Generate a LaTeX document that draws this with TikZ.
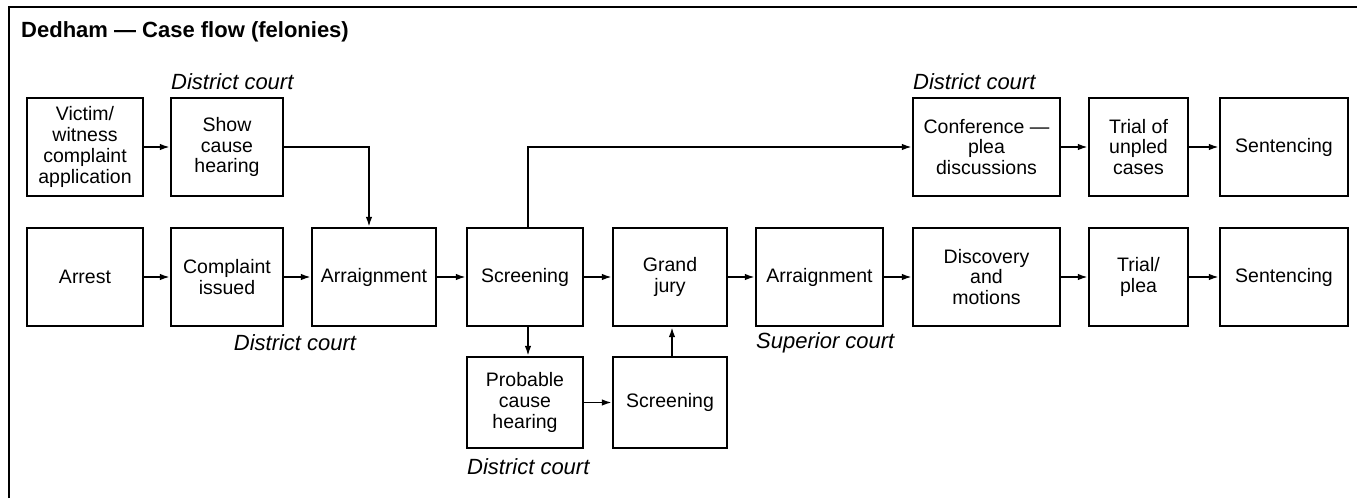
\documentclass[tikz,border=0pt]{standalone}
\usepackage{fontspec}
\setmainfont{Liberation Sans}
\usetikzlibrary{arrows.meta,calc}
\tikzset{
  box/.style={draw, line width=2.2pt, rectangle, inner sep=0pt, align=center,
    font=\fontsize{19.5}{20.8}\selectfont, minimum height=98pt},
  arr/.style={line width=1.8pt, -{Latex[length=10pt,width=6.5pt]}},
  court/.style={font=\itshape\fontsize{22}{26}\selectfont, inner sep=0pt},
  frame/.style={line width=2.2pt}
}
\begin{document}
\begin{tikzpicture}[x=1pt,y=-1pt]
\useasboundingbox (0,0) rectangle (1357,498);
% frame
\coordinate (f0) at (9,498);
\coordinate (f1) at (9,7);
\coordinate (f2) at (1357,7);
\draw[frame] (f0) -- (f1) -- (f2);
\node[anchor=west, inner sep=0pt, font=\bfseries\fontsize{22}{26}\selectfont] (title) at (21,32) {Dedham — Case flow (felonies)};
% top row
\node[box, minimum width=116pt] (vic) at (85,147) {Victim/\\witness\\complaint\\application};
\node[box, minimum width=112pt] (show) at (227,147) {Show\\cause\\hearing};
\node[box, minimum width=147pt] (conf) at (986.5,147) {Conference —\\plea\\discussions};
\node[box, minimum width=99pt] (unpled) at (1138.5,147) {Trial of\\unpled\\cases};
\node[box, minimum width=128pt] (sent1) at (1284,147) {Sentencing};
% middle row
\node[box, minimum width=116pt] (arrest) at (85,277) {Arrest};
\node[box, minimum width=112pt] (compl) at (227,277) {Complaint\\issued};
\node[box, minimum width=124pt] (arr1) at (374,277) {Arraignment};
\node[box, minimum width=116pt] (scr1) at (525,277) {Screening};
\node[box, minimum width=114pt] (gj) at (670,277) {Grand\\jury};
\node[box, minimum width=127pt] (arr2) at (819.5,277) {Arraignment};
\node[box, minimum width=147pt] (disc) at (986.5,277) {Discovery\\and\\motions};
\node[box, minimum width=99pt] (trial) at (1138.5,277) {Trial/\\plea};
\node[box, minimum width=128pt] (sent2) at (1284,277) {Sentencing};
% bottom row
\node[box, minimum width=116pt, minimum height=91pt] (prob) at (525,402.5) {Probable\\cause\\hearing};
\node[box, minimum width=114pt, minimum height=91pt] (scr2) at (670,402.5) {Screening};
% court labels
\node[court, anchor=west] (c1) at (171,82) {District court};
\node[court] (c2) at (295,343) {District court};
\node[court, anchor=west] (c3) at (467,467) {District court};
\node[court, anchor=west] (c4) at (756,343) {Superior court};
\node[court, anchor=west] (c5) at (913,82) {District court};
% connectors
\coordinate (j1) at (369,147);
\coordinate (j2) at (528,147);
\coordinate (j3) at (672,0);
\draw[arr] (vic) -- (show);
\draw[arr] (show.east) -- (j1) -- (j1 |- arr1.north);
\draw[arr] (arrest) -- (compl);
\draw[arr] (compl) -- (arr1);
\draw[arr] (arr1) -- (scr1);
\draw[arr] (scr1) -- (gj);
\draw[arr] (gj) -- (arr2);
\draw[arr] (arr2) -- (disc);
\draw[arr] (disc) -- (trial);
\draw[arr] (trial) -- (sent2);
\draw[arr] (scr1.north -| j2) -- (j2) -- (conf.west);
\draw[arr] (conf) -- (unpled);
\draw[arr] (unpled) -- (sent1);
\draw[arr] (scr1.south -| j2) -- (prob.north -| j2);
\draw[arr] (prob) -- (scr2);
\draw[arr] (scr2.north -| j3) -- (gj.south -| j3);
\end{tikzpicture}
\end{document}
